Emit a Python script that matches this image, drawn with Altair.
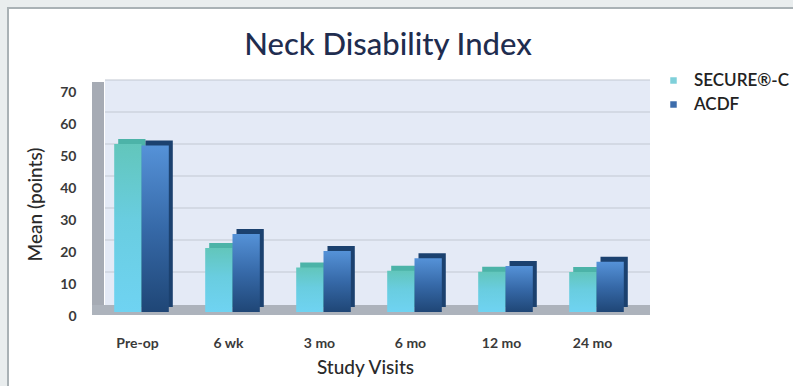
import altair as alt
import pandas as pd

visits = ["Pre-op", "6 wk", "3 mo", "6 mo", "12 mo", "24 mo"]
series_names = ["SECURE®-C", "ACDF"]
secure_vals = [52.5, 20.0, 13.9, 12.9, 12.6, 12.5]
acdf_vals = [52.0, 24.4, 19.1, 16.8, 14.4, 15.7]
y_ticks = [0, 10, 20, 30, 40, 50, 60, 70]
grid_vals = [10, 20, 30, 40, 50, 60, 70]
chart_title = "Neck Disability Index"

rows = []
for v, s, a in zip(visits, secure_vals, acdf_vals):
    rows.append({"visit": v, "series": series_names[0], "value": s})
    rows.append({"visit": v, "series": series_names[1], "value": a})
df = pd.DataFrame(rows)

W, H = 546, 224
FONT = "Lato"
BAND = 91 * 0.6

x_enc = alt.X("visit:N", sort=visits,
              scale=alt.Scale(paddingInner=0.4, paddingOuter=0.2),
              axis=alt.Axis(title="Study Visits", labelAngle=0, domain=False, ticks=False,
                            labelPadding=20, labelFontSize=14, labelFontWeight="bold",
                            labelColor="#3a3a3a", labelFont=FONT, zindex=2,
                            titleFont=FONT, titleFontSize=19, titleFontWeight=500,
                            titleColor="#2a2a2a", titlePadding=8))
xo_front = alt.XOffset("series:N", sort=series_names,
                       scale=alt.Scale(paddingInner=0, paddingOuter=0, range=[4, 4 + BAND]))
xo_side = alt.XOffset("series:N", sort=series_names,
                      scale=alt.Scale(paddingInner=0, paddingOuter=0, range=[8, 8 + BAND]))
y_enc = alt.Y("value:Q", scale=alt.Scale(domain=[0, 70], nice=False),
              axis=alt.Axis(title="Mean (points)", values=y_ticks, grid=False, domain=False,
                            ticks=False, labelPadding=16, labelFontSize=14, zindex=2,
                            labelFontWeight="bold", labelColor="#3a3a3a", labelFont=FONT,
                            titleFont=FONT, titleFontSize=19, titleFontWeight=500,
                            titleColor="#2a2a2a", titlePadding=14))

one = pd.DataFrame({"k": [0]})

panel = alt.Chart(one).mark_rect(fill="white", stroke="#a9b1b5", strokeWidth=2).encode(
    x=alt.value(-84), x2=alt.value(W + 170), y=alt.value(-84), y2=alt.value(H + 90))

title_layer = alt.Chart(pd.DataFrame({"t": [chart_title]})).mark_text(
    font=FONT, fontSize=31, fontWeight=500, color="#1f2d4f", align="center",
    baseline="alphabetic").encode(
    text="t:N", x=alt.value(W / 2 + 23), y=alt.value(-37))

back_wall = alt.Chart(one).mark_rect(fill="#e4eaf6").encode(
    x=alt.value(13), x2=alt.value(W + 12), y=alt.value(-12), y2=alt.value(H - 11))

grid = alt.Chart(pd.DataFrame({"value": grid_vals})).mark_rule(
    color="#c2c8d2", strokeWidth=1.2, yOffset=-12).encode(
    y=y_enc, x=alt.value(13), x2=alt.value(W + 12))

left_wall = alt.Chart(one).mark_rect(fill="#a6abb4").encode(
    x=alt.value(0), x2=alt.value(12), y=alt.value(-10), y2=alt.value(H - 1))

floor = alt.Chart(one).mark_rect(fill="#adb3bc").encode(
    x=alt.value(0), x2=alt.value(W + 12), y=alt.value(H - 11), y2=alt.value(H - 1))

side = alt.Chart(df).mark_bar(yOffset=-9).encode(
    x=x_enc, xOffset=xo_side, y=y_enc,
    color=alt.condition(alt.datum.series == "ACDF", alt.value("#1b416f"), alt.value("#4cb3a8")))

grad_secure = {"gradient": "linear", "x1": 0, "y1": 0, "x2": 0, "y2": 1,
               "stops": [{"offset": 0, "color": "#62c6bb"},
                         {"offset": 0.45, "color": "#69cde0"},
                         {"offset": 1, "color": "#6fd3f2"}]}
grad_acdf = {"gradient": "linear", "x1": 0, "y1": 0, "x2": 0, "y2": 1,
             "stops": [{"offset": 0, "color": "#5592d8"},
                       {"offset": 0.5, "color": "#3669a8"},
                       {"offset": 1, "color": "#1f4676"}]}

front_s = alt.Chart(df).transform_filter(alt.datum.series == series_names[0]).mark_bar(
    color=grad_secure, yOffset=-4).encode(x=x_enc, xOffset=xo_front, y=y_enc)
front_a = alt.Chart(df).transform_filter(alt.datum.series == series_names[1]).mark_bar(
    color=grad_acdf, yOffset=-4).encode(x=x_enc, xOffset=xo_front, y=y_enc)

legend_layer = alt.Chart(df).mark_bar(opacity=0).encode(
    x=x_enc, xOffset=xo_front, y=y_enc,
    color=alt.Color("series:N", sort=series_names,
                    scale=alt.Scale(domain=series_names, range=["#7fd0da", "#3d6dab"]),
                    legend=alt.Legend(title=None, orient="none", legendX=573, legendY=-20,
                                      symbolType="square", symbolSize=42, symbolOpacity=1,
                                      symbolStrokeWidth=0, labelFont=FONT, labelFontSize=17,
                                      labelFontWeight=600, labelColor="#222222",
                                      rowPadding=6, labelOffset=12)))

fronts = alt.layer(front_s, front_a, legend_layer)

chart = alt.layer(panel, title_layer, back_wall, grid, left_wall, floor, side, fronts).resolve_scale(
    xOffset="independent").properties(
    width=W, height=H,
    autosize=alt.AutoSizeParams(type="none"),
    padding={"left": 92, "top": 92, "right": 793 - 92 - W, "bottom": 386 - 92 - H},
).configure(background="#e9edee").configure_view(stroke=None)

chart.save("out.html", embed_options={"renderer": "svg", "actions": False})
